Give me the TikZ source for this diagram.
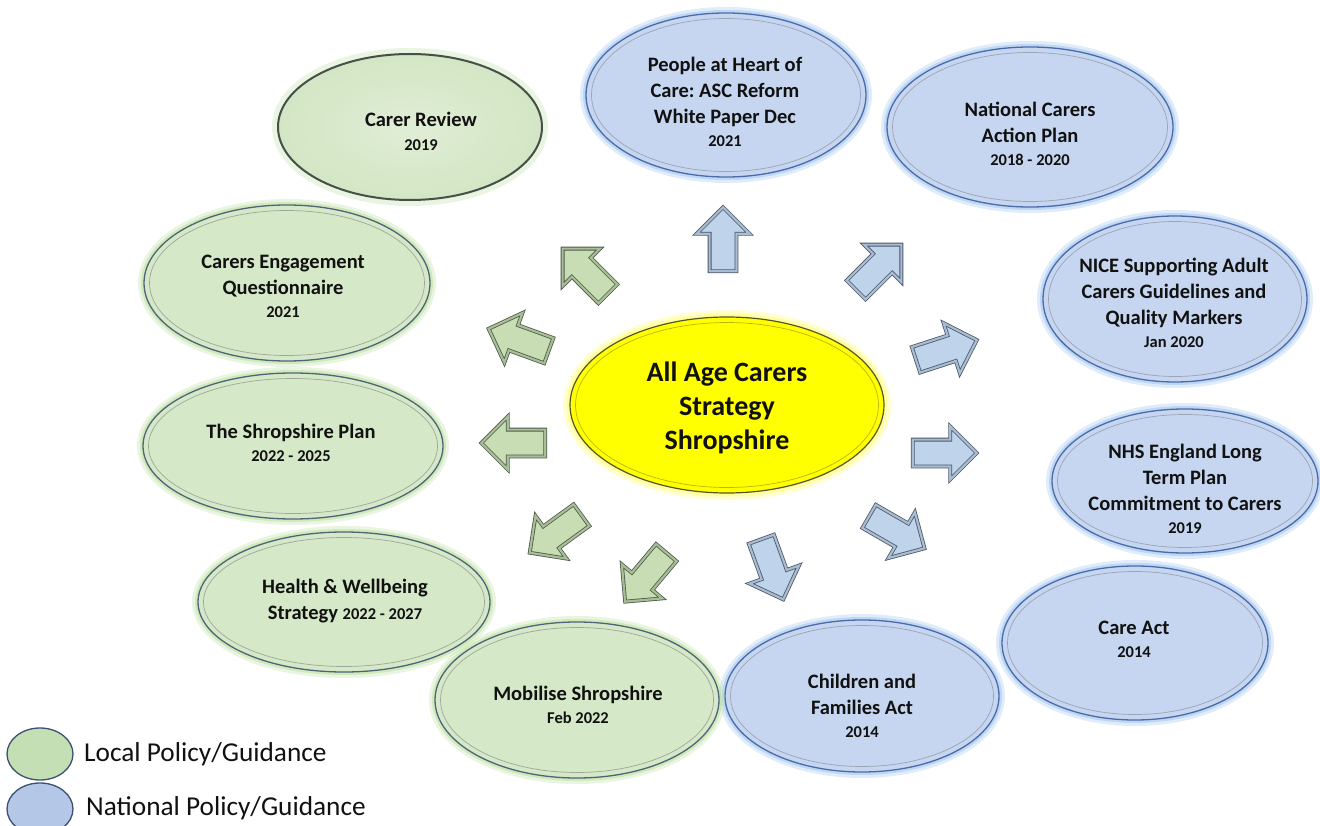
\documentclass[tikz,border=0pt]{standalone}
\usepackage{fontspec}
\setmainfont{Carlito}
\usetikzlibrary{shapes.geometric,shapes.arrows}
\definecolor{gfill}{HTML}{D5E8C8}
\definecolor{gline}{HTML}{4F6379}
\definecolor{gglow}{HTML}{B8E09A}
\definecolor{gring}{HTML}{9DA89A}
\definecolor{bfill}{HTML}{C6D6F0}
\definecolor{bline}{HTML}{4A6BA8}
\definecolor{bglow}{HTML}{9DC3F0}
\definecolor{bring}{HTML}{9AA4B4}
\definecolor{yfill}{HTML}{FFFF00}
\definecolor{yline}{HTML}{55552A}
\definecolor{yglow}{HTML}{FFFF80}
\definecolor{yring}{HTML}{B8B800}
\definecolor{txtc}{HTML}{111111}
\definecolor{garfill}{HTML}{C9DDB4}
\definecolor{garline}{HTML}{4E5A4E}
\definecolor{garband}{HTML}{A8BE95}
\definecolor{barfill}{HTML}{BFD3EA}
\definecolor{barline}{HTML}{4B5868}
\definecolor{barband}{HTML}{A9BCD2}
\definecolor{legg}{HTML}{C5DFB4}
\definecolor{legb}{HTML}{B4C7E7}
\definecolor{legline}{HTML}{3A5070}
\definecolor{crfill}{HTML}{D3E6C4}
\definecolor{crline}{HTML}{45504A}
\newcommand\yr{\fontsize{16.5}{20}\selectfont}
\newcommand\bubble[7]{%
  \node[#6, minimum width=2*#4pt, minimum height=2*#5pt] (#1) at (#2,#3) {};
  \draw[draw=#7, line width=.7pt] (#1.center) ellipse [x radius=#4pt-5.5pt, y radius=#5pt-5.5pt];}
\newcommand\barr[4]{\node[#4, rotate=#3] (#1) at (#2) {};}
\tikzset{
  bub/.style={ellipse, inner sep=0pt},
  gbub/.style={bub, fill=gfill, draw=gline, line width=1.3pt,
    preaction={draw=gglow, line width=12pt, opacity=.3},
    preaction={draw=gglow, line width=6pt, opacity=.5}},
  bbub/.style={bub, fill=bfill, draw=bline, line width=1.3pt,
    preaction={draw=bglow, line width=12pt, opacity=.3},
    preaction={draw=bglow, line width=6pt, opacity=.5}},
  ybub/.style={bub, fill=yfill, draw=yline, line width=1.2pt,
    preaction={draw=yglow, line width=14pt, opacity=.35},
    preaction={draw=yglow, line width=7pt, opacity=.6}},
  crbub/.style={bub, inner color=crfill!70!white, outer color=crfill,
    draw=crline, line width=2pt,
    preaction={draw=gglow, line width=12pt, opacity=.3}},
  txt/.style={align=center, text=txtc, inner sep=0pt,
    font=\frenchspacing\bfseries\fontsize{20.5}{26}\selectfont},
  ctxt/.style={align=center, text=txtc, inner sep=0pt,
    font=\bfseries\fontsize{28}{34}\selectfont},
  blk/.style={single arrow, minimum height=64pt, minimum width=1pt,
    inner xsep=0pt, inner ysep=13pt, single arrow head extend=13pt,
    single arrow tip angle=90, line width=.8pt, double distance=2.2pt},
  garr/.style={blk, fill=garfill, draw=garline, double=garband},
  barr/.style={blk, fill=barfill, draw=barline, double=barband},
  leg/.style={ellipse, inner sep=0pt, minimum width=66pt, minimum height=52pt,
    draw=legline, line width=1.3pt},
  legt/.style={anchor=west, inner sep=0pt, text=txtc, font=\fontsize{27.3}{32}\selectfont}
}
\begin{document}
\begin{tikzpicture}[x=1pt,y=-1pt]
\useasboundingbox (0,0) rectangle (1320,826);
\fill[white] (0,0) rectangle (1320,826);
% bubbles
\node[crbub, minimum width=264pt, minimum height=146pt] (cr) at (410,127) {};
\bubble{ph}{726}{95}{140}{82}{bbub}{bring}
\bubble{nc}{1030}{127}{143}{80}{bbub}{bring}
\bubble{ni}{1175}{299}{132}{83}{bbub}{bring}
\bubble{nh}{1185}{481}{133}{72}{bbub}{bring}
\bubble{ca}{1135}{643}{133}{77}{bbub}{bring}
\bubble{cf}{862}{696}{137}{76}{bbub}{bring}
\bubble{ms}{577}{700}{142}{78}{gbub}{gring}
\bubble{hw}{344}{602}{146}{70}{gbub}{gring}
\bubble{sp}{293}{446}{150}{73}{gbub}{gring}
\bubble{ce}{287}{283}{143}{78}{gbub}{gring}
\bubble{ctr}{727}{405}{157}{88}{ybub}{yring}
% texts
\node[txt] (cr-t) at (421,131) {Carer Review\\[-2pt]{\yr 2019}};
\node[txt] (ph-t) at (725,102) {People at Heart of\\Care: ASC Reform\\White Paper Dec\\[-3pt]{\yr 2021}};
\node[txt] (nc-t) at (1030,134) {National Carers\\Action Plan\\[-3pt]{\yr 2018 - 2020}};
\node[txt] (ni-t) at (1174,303) {NICE Supporting Adult\\Carers Guidelines and\\Quality Markers\\[-3pt]{\yr Jan 2020}};
\node[txt] (nh-t) at (1185,489) {NHS England Long\\Term Plan\\Commitment to Carers\\[-3pt]{\yr 2019}};
\node[txt] (ca-t) at (1134,639) {Care Act\\[-3pt]{\yr 2014}};
\node[txt] (cf-t) at (862,706) {Children and\\Families Act\\[-3pt]{\yr 2014}};
\node[txt] (ms-t) at (578,705) {Mobilise Shropshire\\[-3pt]{\yr Feb 2022}};
\node[txt] (hw-t) at (345,601) {Health \& Wellbeing\\Strategy {\yr 2022 - 2027}};
\node[txt] (sp-t) at (291,443) {The Shropshire Plan\\[-3pt]{\yr 2022 - 2025}};
\node[txt] (ce-t) at (283,286) {Carers Engagement\\Questionnaire\\[-3pt]{\yr 2021}};
\node[ctxt] (ctr-t) at (727,408) {All Age Carers\\Strategy\\Shropshire};
% arrows
\barr{a1}{590,276}{135}{garr}
\barr{a2}{525,342}{160}{garr}
\barr{a3}{520,443}{180}{garr}
\barr{a4}{561,530}{216}{garr}
\barr{a5}{650,572}{230}{garr}
\barr{b1}{770,563}{-70}{barr}
\barr{b2}{891,529}{-30}{barr}
\barr{b3}{938,453}{0}{barr}
\barr{b4}{940,352}{18}{barr}
\barr{b5}{874,272}{45}{barr}
\barr{b6}{723,246}{90}{barr}
% legend
\node[leg, fill=legg] (lg) at (40,754) {};
\node[leg, fill=legb] (lb) at (40,809) {};
\node[legt] (lg-t) at (84,754) {Local Policy/Guidance};
\node[legt] (lb-t) at (86,808) {National Policy/Guidance};
\end{tikzpicture}
\end{document}
